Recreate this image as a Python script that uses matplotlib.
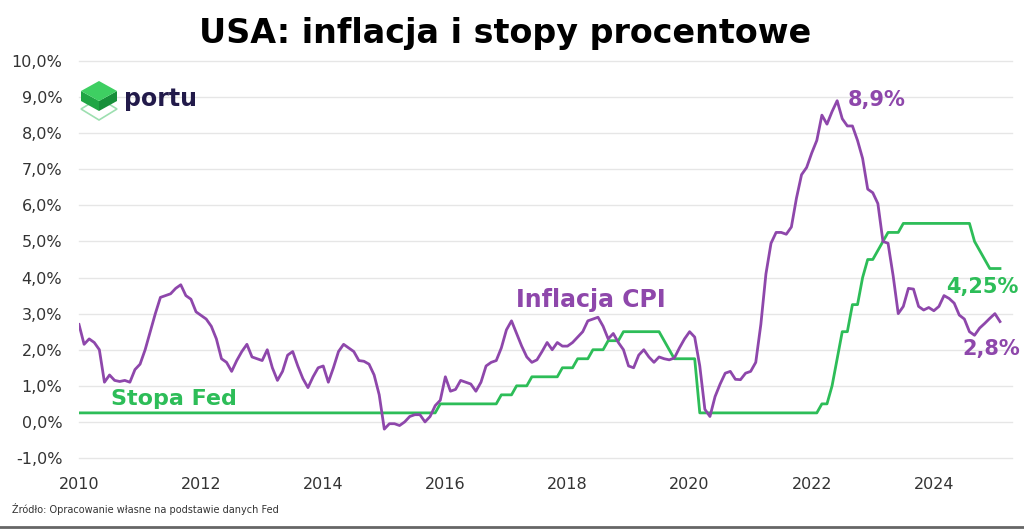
import numpy as np
import matplotlib
matplotlib.use('Agg')
import matplotlib.pyplot as plt
from matplotlib.patches import Polygon
from matplotlib.lines import Line2D
from matplotlib.ticker import FuncFormatter

# monthly CPI y/y (%), Jan 2010 - Feb 2025
cpi_2010 = [2.7, 2.15, 2.3, 2.2, 2.0, 1.1, 1.3, 1.15, 1.12, 1.15, 1.1, 1.45]
cpi_2011 = [1.6, 2.0, 2.5, 3.0, 3.45, 3.5, 3.55, 3.7, 3.8, 3.5, 3.4, 3.05]
cpi_2012 = [2.95, 2.85, 2.65, 2.3, 1.75, 1.65, 1.4, 1.7, 1.95, 2.15, 1.8, 1.75]
cpi_2013 = [1.7, 2.0, 1.5, 1.15, 1.4, 1.85, 1.95, 1.55, 1.2, 0.95, 1.25, 1.5]
cpi_2014 = [1.55, 1.1, 1.5, 1.95, 2.15, 2.05, 1.95, 1.7, 1.68, 1.6, 1.3, 0.75]
cpi_2015 = [-0.2, -0.05, -0.05, -0.1, 0.0, 0.15, 0.2, 0.2, 0.0, 0.15, 0.45, 0.6]
cpi_2016 = [1.25, 0.85, 0.9, 1.15, 1.1, 1.05, 0.85, 1.1, 1.55, 1.65, 1.7, 2.05]
cpi_2017 = [2.55, 2.8, 2.45, 2.1, 1.8, 1.65, 1.72, 1.95, 2.2, 2.0, 2.2, 2.1]
cpi_2018 = [2.1, 2.2, 2.35, 2.5, 2.8, 2.85, 2.9, 2.65, 2.3, 2.45, 2.2, 2.0]
cpi_2019 = [1.55, 1.5, 1.85, 2.0, 1.8, 1.65, 1.8, 1.75, 1.72, 1.77, 2.05, 2.3]
cpi_2020 = [2.5, 2.35, 1.55, 0.35, 0.15, 0.7, 1.05, 1.35, 1.4, 1.18, 1.17, 1.35]
cpi_2021 = [1.4, 1.65, 2.7, 4.1, 4.95, 5.25, 5.25, 5.2, 5.4, 6.2, 6.85, 7.05]
cpi_2022 = [7.45, 7.8, 8.5, 8.25, 8.6, 8.9, 8.4, 8.2, 8.2, 7.8, 7.3, 6.45]
cpi_2023 = [6.35, 6.05, 5.0, 4.95, 4.05, 3.0, 3.2, 3.7, 3.68, 3.2, 3.1, 3.17]
cpi_2024 = [3.08, 3.2, 3.5, 3.42, 3.29, 2.96, 2.85, 2.5, 2.4, 2.6, 2.73, 2.87]
cpi_2025 = [3.0, 2.78]

# Fed funds rate (%), end of month
fed_2010_2014 = [0.25] * 60
fed_2015 = [0.25] * 11 + [0.5]
fed_2016 = [0.5] * 11 + [0.75]
fed_2017 = [0.75, 0.75, 1.0, 1.0, 1.0, 1.25, 1.25, 1.25, 1.25, 1.25, 1.25, 1.5]
fed_2018 = [1.5, 1.5, 1.75, 1.75, 1.75, 2.0, 2.0, 2.0, 2.25, 2.25, 2.25, 2.5]
fed_2019 = [2.5, 2.5, 2.5, 2.5, 2.5, 2.5, 2.5, 2.25, 2.0, 1.75, 1.75, 1.75]
fed_2020 = [1.75, 1.75] + [0.25] * 10
fed_2021 = [0.25] * 12
fed_2022 = [0.25, 0.25, 0.5, 0.5, 1.0, 1.75, 2.5, 2.5, 3.25, 3.25, 4.0, 4.5]
fed_2023 = [4.5, 4.75, 5.0, 5.25, 5.25, 5.25, 5.5, 5.5, 5.5, 5.5, 5.5, 5.5]
fed_2024 = [5.5] * 8 + [5.0, 4.75, 4.5, 4.25]
fed_2025 = [4.25, 4.25]

year_ticks = [2010, 2012, 2014, 2016, 2018, 2020, 2022, 2024]

cpi = np.array(cpi_2010 + cpi_2011 + cpi_2012 + cpi_2013 + cpi_2014 + cpi_2015 +
               cpi_2016 + cpi_2017 + cpi_2018 + cpi_2019 + cpi_2020 + cpi_2021 +
               cpi_2022 + cpi_2023 + cpi_2024 + cpi_2025)
fed = np.array(fed_2010_2014 + fed_2015 + fed_2016 + fed_2017 + fed_2018 + fed_2019 +
               fed_2020 + fed_2021 + fed_2022 + fed_2023 + fed_2024 + fed_2025)
months = 2010 + np.arange(len(cpi)) / 12.0

purple = '#8e47ab'
green = '#2dbd58'

plt.rcParams['font.family'] = ['DejaVu Sans']

fig = plt.figure(figsize=(10.24, 5.29), dpi=100)
ax = fig.add_axes([79 / 1024, 1 - 458 / 529, (1012 - 79) / 1024, (458 - 61) / 529])

ax.plot(months, fed, color=green, lw=2.0, zorder=3)
ax.plot(months, cpi, color=purple, lw=2.0, zorder=4)

ax.set_xlim(2010, 2025.28)
ax.set_ylim(-1, 10)
ax.set_yticks(np.arange(-1, 11, 1))
ax.yaxis.set_major_formatter(FuncFormatter(lambda v, p: ('%.1f%%' % v).replace('.', ',')))
ax.set_xticks(year_ticks)
ax.set_xticklabels([str(y) for y in year_ticks])
ax.tick_params(length=0, labelsize=11.5, colors='#333333')
ax.tick_params(axis='y', pad=12)
ax.tick_params(axis='x', pad=14)
ax.grid(axis='y', color='#e6e6e6', lw=1)
for gl in ax.get_ygridlines():
    gl.set_clip_on(False)
ax.set_axisbelow(True)
for s in ax.spines.values():
    s.set_visible(False)

# labels on the chart
ax.text(2022.59, 8.92, '8,9%', color=purple, fontsize=15, fontweight='bold', va='center', ha='left')
ax.text(2018.39, 3.38, 'Inflacja CPI', color=purple, fontsize=17, fontweight='bold', va='center', ha='center')
ax.text(2011.56, 0.64, 'Stopa Fed', color=green, fontsize=16, fontweight='bold', va='center', ha='center')
ax.text(2024.8, 3.74, '4,25%', color=green, fontsize=15, fontweight='bold', va='center', ha='center')
ax.text(2024.94, 2.02, '2,8%', color=purple, fontsize=15, fontweight='bold', va='center', ha='center')

fig.text(0.493, 0.937, 'USA: inflacja i stopy procentowe', fontsize=24, fontweight='bold',
         ha='center', va='center', color='black')
fig.text(12 / 1024, 1 - 509 / 529, 'Źródło: Opracowanie własne na podstawie danych Fed',
         fontsize=7, color='#333333', ha='left', va='center')
fig.add_artist(Line2D([0, 1], [0.003, 0.003], color='#666666', lw=2))

# portu logo
lg = fig.add_axes([75 / 1024, 1 - 125 / 529, 125 / 1024, 50 / 529])
lg.set_xlim(75, 200)
lg.set_ylim(125, 75)
lg.axis('off')
lg.add_patch(Polygon([(81, 109), (99, 98), (117, 109), (99, 120)], closed=True,
                     fc='none', ec='#9ddfb0', lw=1.2))
lg.add_patch(Polygon([(81, 91), (99, 101), (99, 111), (81, 101)], closed=True, fc='#1fa544', ec='none'))
lg.add_patch(Polygon([(99, 101), (117, 91), (117, 101), (99, 111)], closed=True, fc='#178f3a', ec='none'))
lg.add_patch(Polygon([(81, 91), (99, 81), (117, 91), (99, 101)], closed=True, fc='#3ecf62', ec='none'))
lg.text(124, 106, 'portu', fontsize=17, fontweight='bold', color='#221a4a', ha='left', va='baseline')

fig.savefig('out.png', dpi=100)
